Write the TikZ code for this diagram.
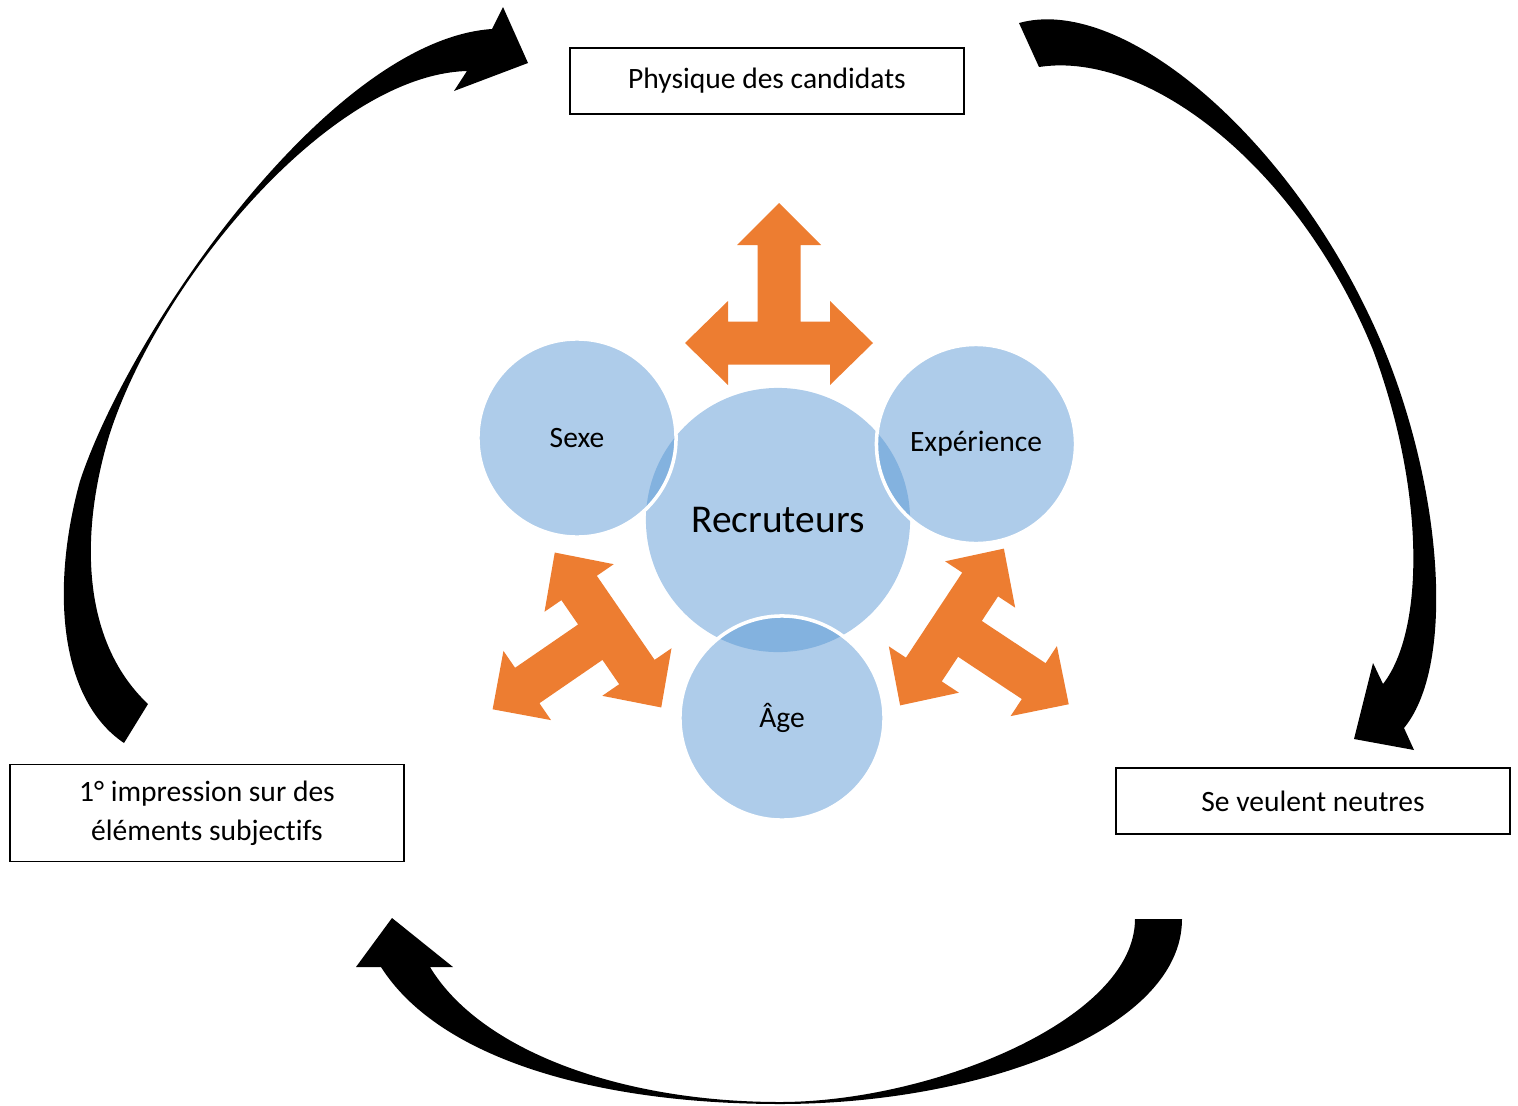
\documentclass[tikz,border=0pt]{standalone}
\usepackage{fontspec}
\setmainfont{Carlito}[Ligatures=NoCommon]

\definecolor{bubbleblue}{RGB}{174,204,234}
\definecolor{overlapblue}{RGB}{131,178,223}
\definecolor{arroworange}{RGB}{237,125,49}

\tikzset{
  bubble/.style = {circle, fill = bubbleblue, inner sep = 0pt,
    font = \fontsize{8.4}{10}\selectfont},
  labelbox/.style = {draw = black, line width = 0.4pt, minimum width = 3.94cm,
    minimum height = 0.66cm, align = center, font = \fontsize{8.4}{11.1}\selectfont},
  triarrow/.pic = {
    \fill[arroworange] (0,-140) -- (42,-98) -- (21.5,-98) -- (21.5,-21.5)
      -- (51,-21.5) -- (51,-42) -- (94,0) -- (51,42) -- (51,21.5)
      -- (-51,21.5) -- (-51,42) -- (-94,0) -- (-51,-42) -- (-51,-21.5)
      -- (-21.5,-21.5) -- (-21.5,-98) -- (-42,-98) -- cycle;
  }
}

\begin{document}
\begin{tikzpicture}[x = 0.01cm, y = -0.01cm]

        \useasboundingbox (0,0) rectangle (1518,1106);

        % the three orange arrows
        \pic at (779,343) {triarrow};
        \pic[rotate = 124.5] at (608,630) {triarrow};
        \pic[rotate = -123.5] at (952,627) {triarrow};

        % circles
        \node (recr)[bubble, minimum size = 2.64cm, font = \fontsize{11.2}{13}\selectfont]
        at (778,520) {Recruteurs};
        \node (sexe)[bubble, minimum size = 1.98cm] at (577,438) {Sexe};
        \node (expe)[bubble, minimum size = 1.99cm] at (976,444) {Expérience};
        \node (age)[bubble, minimum size = 2.04cm] at (782,718) {Âge};

        \begin{scope}
          \clip (recr.center) circle (1.32cm);
          \fill[overlapblue] (sexe.center) circle (0.99cm);
          \fill[overlapblue] (expe.center) circle (0.995cm);
          \fill[overlapblue] (age.center) circle (1.02cm);
        \end{scope}
        \draw[white, line width = 1pt] (sexe.center) circle (0.99cm);
        \draw[white, line width = 1pt] (expe.center) circle (0.995cm);
        \draw[white, line width = 1pt] (age.center) circle (1.02cm);

        % boxes
        \node (phys)[labelbox] at (767,81) {Physique des candidats};
        \node (impr)[labelbox, minimum height = 0.97cm] at (207,813)
        {1° impression sur des\\éléments subjectifs};
        \node (neut)[labelbox] at (1313,801) {Se veulent neutres};

        % black curved arrows
        \fill (124,743) .. controls (60,700) and (50,590) .. (80,481)
          .. controls (130,330) and (330,40) .. (492,29)
          -- (503,7) -- (528,63) -- (454,91) -- (467,71)
          .. controls (330,75) and (160,280) .. (110,433)
          .. controls (80,530) and (80,640) .. (148,704) -- cycle;
        \fill (1019,23) .. controls (1120,-5) and (1280,130) .. (1367,311)
          .. controls (1440,460) and (1460,660) .. (1404,728)
          -- (1414,750) -- (1354,739) -- (1373,663) -- (1383,684)
          .. controls (1425,630) and (1425,490) .. (1373,350)
          .. controls (1300,170) and (1150,50) .. (1039,67) -- cycle;
        \fill (1182,919) .. controls (1182,1030) and (980,1104) .. (780,1104)
          .. controls (600,1104) and (440,1060) .. (381,967)
          -- (356,967) -- (392,918) -- (453,967) -- (430,967)
          .. controls (480,1050) and (620,1102) .. (780,1102)
          .. controls (930,1102) and (1135,1020) .. (1135,919) -- cycle;
    \end{tikzpicture}
\end{document}
